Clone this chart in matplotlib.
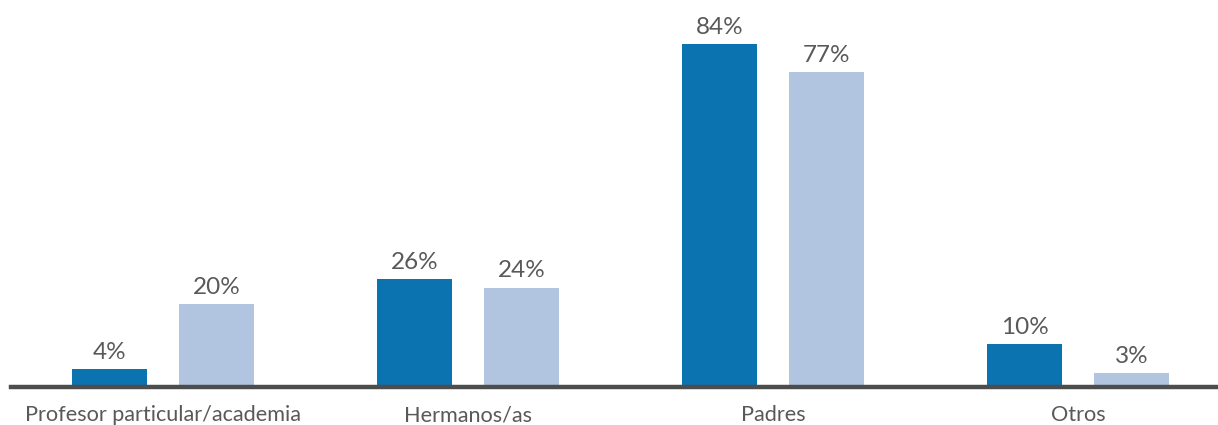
import matplotlib
matplotlib.use('Agg')
import matplotlib.pyplot as plt
import numpy as np

categories = ["Profesor particular/academia", "Hermanos/as", "Padres", "Otros"]
serie_a = [4, 26, 84, 10]
serie_b = [20, 24, 77, 3]

plt.rcParams['font.family'] = ['Lato', 'DejaVu Sans']
text_color = '#595959'
dark_blue = '#0b73b0'
light_blue = '#b2c5e0'

fig = plt.figure(figsize=(12.18, 4.25), dpi=100)
ax = fig.add_axes([11 / 1218, 40 / 425, 1 - 11 / 1218, 385 / 425])

x = np.arange(len(categories))
w = 75 / 305
off = 53.5 / 305
bars_a = ax.bar(x - off, serie_a, width=w, color=dark_blue)
bars_b = ax.bar(x + off, serie_b, width=w, color=light_blue)

for bars in (bars_a, bars_b):
    for b in bars:
        ax.annotate(f"{b.get_height():.0f}%",
                    (b.get_x() + b.get_width() / 2, b.get_height()),
                    xytext=(0, 4.5), textcoords='offset points',
                    ha='center', va='bottom', fontsize=17.5, color=text_color)

ax.set_xlim(-0.498, 3.459)
ax.set_ylim(0, 94.8)
ax.set_xticks(x)
ax.set_xticklabels(categories)
ax.tick_params(axis='x', length=0, pad=13, labelsize=15.6, labelcolor=text_color)
ax.set_yticks([])
for s in ('top', 'right', 'left'):
    ax.spines[s].set_visible(False)
ax.spines['bottom'].set_color('#4d4d4d')
ax.spines['bottom'].set_linewidth(3.2)
ax.spines['bottom'].set_position(('outward', 1.6))

fig.savefig('out.png', dpi=100)
